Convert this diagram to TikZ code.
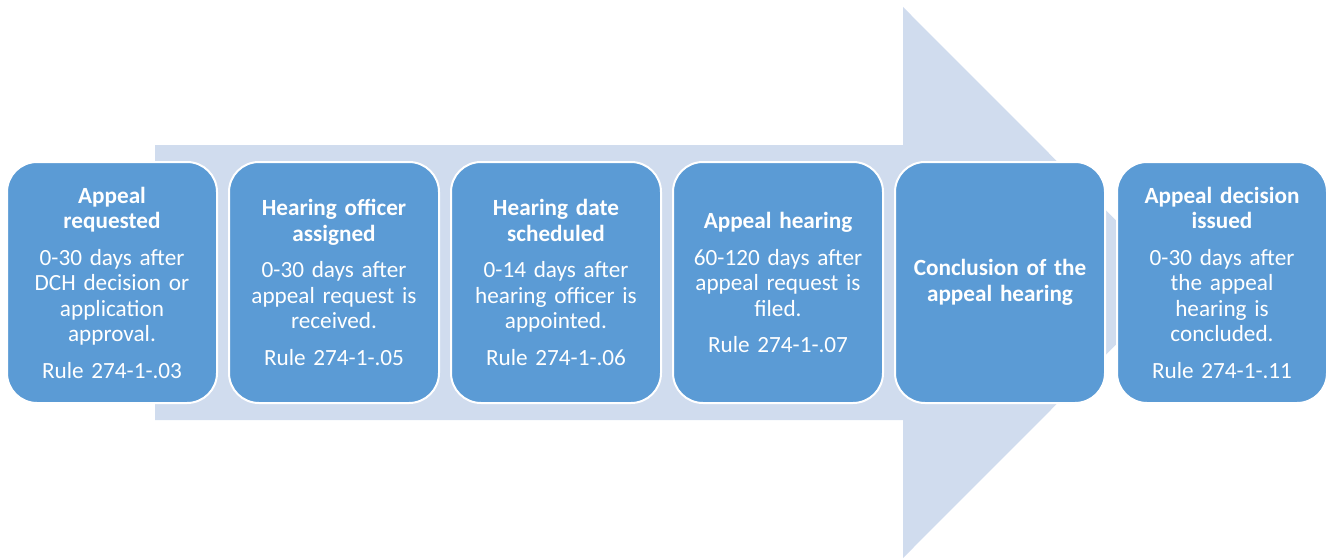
\documentclass[tikz,border=0pt]{standalone}
\usepackage{fontspec}
\setmainfont{Carlito}
\definecolor{boxblue}{HTML}{5B9BD5}
\definecolor{arrowpale}{HTML}{D0DCEE}
\begin{document}
\begin{tikzpicture}[x=1pt,y=-1pt,
  stepbox/.style={draw=white, line width=2pt, fill=boxblue, rounded corners=30pt,
    minimum width=210pt, minimum height=241pt, text width=204pt, align=center,
    text=white, inner sep=0pt, font=\fontsize{23.2}{25.5}\selectfont}]
\useasboundingbox (0,0) rectangle (1327,559);
\fill[arrowpale] (155,145) -- (903,145) -- (903,7) -- (1178,282.5) -- (903,558) -- (903,420) -- (155,420) -- cycle;
\node[stepbox] (s1) at (112,282.5) {\textbf{Appeal\\requested}\\[11pt]0-30 days after\\DCH decision or\\application\\approval.\\[11pt]Rule 274-1-.03};
\node[stepbox] (s2) at (334,282.5) {\textbf{Hearing officer\\assigned}\\[11pt]0-30 days after\\appeal request is\\received.\\[11pt]Rule 274-1-.05};
\node[stepbox] (s3) at (556,282.5) {\textbf{Hearing date\\scheduled}\\[11pt]0-14 days after\\hearing officer is\\appointed.\\[11pt]Rule 274-1-.06};
\node[stepbox] (s4) at (778,282.5) {\textbf{Appeal hearing}\\[11pt]60-120 days after\\appeal request is\\filed.\\[11pt]Rule 274-1-.07};
\node[stepbox] (s5) at (1000,282.5) {\textbf{Conclusion of the\\appeal hearing}};
\node[stepbox] (s6) at (1222,282.5) {\textbf{Appeal decision\\issued}\\[11pt]0-30 days after\\the appeal\\hearing is\\concluded.\\[11pt]Rule 274-1-.11};
\end{tikzpicture}
\end{document}
